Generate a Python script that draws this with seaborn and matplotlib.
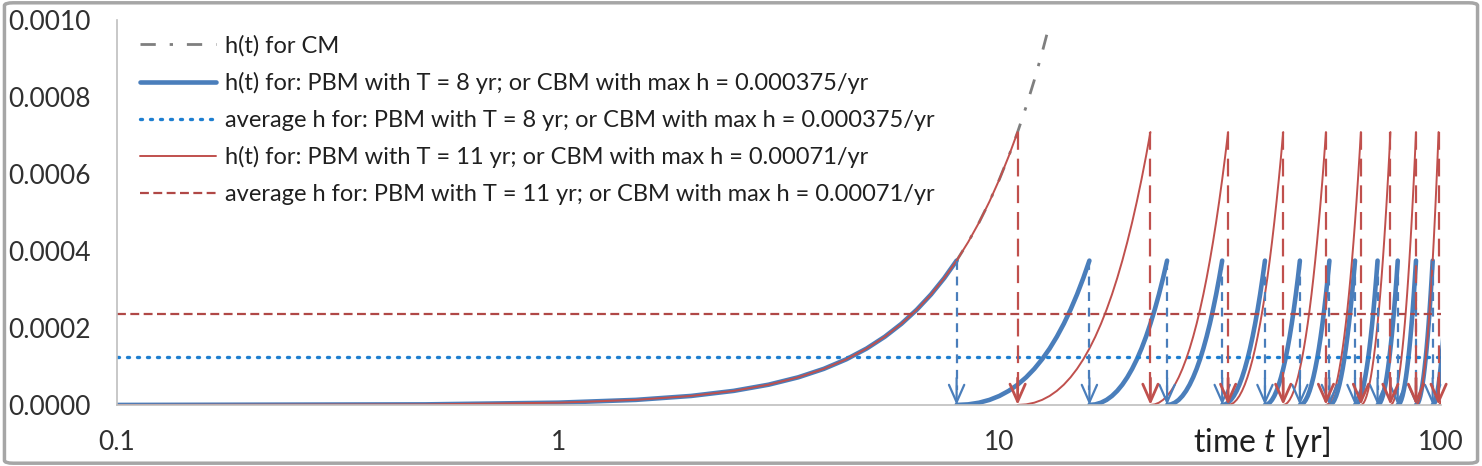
import numpy as np
import pandas as pd
import matplotlib
matplotlib.use("Agg")
import matplotlib.pyplot as plt
import seaborn as sns
from matplotlib.lines import Line2D
from matplotlib.patches import FancyBboxPatch
from matplotlib.ticker import FixedLocator, FixedFormatter, NullLocator

# hazard, by age in years
age_yr = [0, 0.5, 1, 1.5, 2, 2.5, 3, 3.5, 4, 4.5, 5, 5.5, 6, 6.5, 7, 7.5, 8,
          8.5, 9, 9.5, 10, 10.5, 11, 11.5, 12, 12.5, 13]
h_cm = [0.0, 1.5e-6, 5.9e-6, 1.32e-5, 2.34e-5, 3.66e-5, 5.27e-5, 7.18e-5,
        9.38e-5, 1.187e-4, 1.465e-4, 1.773e-4, 2.11e-4, 2.476e-4, 2.871e-4,
        3.296e-4, 3.75e-4, 4.234e-4, 4.747e-4, 5.289e-4, 5.86e-4, 6.461e-4,
        7.09e-4, 7.75e-4, 8.438e-4, 9.156e-4, 9.9e-4]

# renewal times for the two periodic policies
T_blue = 8
T_red = 11
renew_blue = [0, 8, 16, 24, 32, 40, 48, 56, 64, 72, 80, 88, 96]
renew_red = [0, 11, 22, 33, 44, 55, 66, 77, 88, 99]
hmax_blue = 0.000375
hmax_red = 0.00071
avg_blue = 0.000125
avg_red = 0.000237

labels = ["h(t) for CM",
          "h(t) for: PBM with T = 8 yr; or CBM with max h = 0.000375/yr",
          "average h for: PBM with T = 8 yr; or CBM with max h = 0.000375/yr",
          "h(t) for: PBM with T = 11 yr; or CBM with max h = 0.00071/yr",
          "average h for: PBM with T = 11 yr; or CBM with max h = 0.00071/yr"]

c_grey = "#7f7f7f"
c_blue = "#4a7ebb"
c_blue_avg = "#1f7fd0"
c_red = "#c0504d"
c_red_avg = "#b04846"

ls_grey = (0, (5.5, 5, 1.2, 5))
ls_blue_avg = (0, (0.6, 2.4))
ls_red_avg = (0, (4, 2))


def sawtooth(renewals, T):
    rows = []
    for k, t0 in enumerate(renewals):
        for a, h in zip(age_yr, h_cm):
            if a > T:
                break
            t = t0 + a
            if t <= 0:
                t = 0.1
            rows.append((k, t, h))
    return pd.DataFrame(rows, columns=["cycle", "t", "h"])


sns.set_style("white")
plt.rcParams["font.family"] = ["Lato", "DejaVu Sans"]
plt.rcParams["mathtext.fontset"] = "custom"
plt.rcParams["mathtext.rm"] = "Lato"
plt.rcParams["mathtext.it"] = "Lato:italic"

fig = plt.figure(figsize=(14.82, 4.66), dpi=100)
ax = fig.add_axes([0.079, 0.131, 0.893, 0.826])

df_cm = pd.DataFrame({"t": [max(a, 0.1) for a in age_yr], "h": h_cm})
sns.lineplot(data=df_cm, x="t", y="h", ax=ax, color=c_grey, lw=2.0,
             linestyle=ls_grey, sort=False, legend=False)

df_b = sawtooth(renew_blue, T_blue)
sns.lineplot(data=df_b, x="t", y="h", units="cycle", estimator=None, sort=False,
             ax=ax, color=c_blue, lw=3.3, legend=False)

sns.lineplot(x=[0.1, 100], y=[avg_blue, avg_blue], ax=ax, color=c_blue_avg,
             lw=2.4, linestyle=ls_blue_avg, dash_capstyle="round", legend=False)

df_r = sawtooth(renew_red, T_red)
sns.lineplot(data=df_r, x="t", y="h", units="cycle", estimator=None, sort=False,
             ax=ax, color=c_red, lw=1.4, legend=False)

sns.lineplot(x=[0.1, 100], y=[avg_red, avg_red], ax=ax, color=c_red_avg,
             lw=1.6, linestyle=ls_red_avg, legend=False)

# renewal arrows
for t0 in renew_blue[1:]:
    ax.plot([t0, t0], [hmax_blue, 0.00004], color=c_blue, lw=1.6,
            linestyle=(0, (4, 3)))
    ax.annotate("", xy=(t0, 0.0), xytext=(t0, 0.00007),
                arrowprops=dict(arrowstyle="->,head_length=1.25,head_width=0.55",
                                color=c_blue, lw=1.6, shrinkA=0, shrinkB=0))
for t0 in renew_red[1:]:
    ax.plot([t0, t0], [hmax_red, 0.00004], color=c_red, lw=1.6,
            linestyle=(0, (8, 4)))
    ax.annotate("", xy=(t0, 0.0), xytext=(t0, 0.00007),
                arrowprops=dict(arrowstyle="->,head_length=1.25,head_width=0.55",
                                color=c_red, lw=2.0, shrinkA=0, shrinkB=0))

ax.set_xscale("log")
ax.set_xlim(0.1, 100)
ax.set_ylim(0, 0.001)
ax.xaxis.set_major_locator(FixedLocator([0.1, 1, 10, 100]))
ax.xaxis.set_major_formatter(FixedFormatter(["0.1", "1", "10", "100"]))
ax.xaxis.set_minor_locator(NullLocator())
yt = np.arange(0, 0.00101, 0.0002)
ax.set_yticks(yt)
ax.set_yticklabels([f"{v:.4f}" for v in yt])
ax.tick_params(axis="both", labelsize=19, colors="#bfbfbf", labelcolor="#303030",
               direction="out", length=6, width=1.2)
ax.tick_params(axis="x", pad=12)
ax.tick_params(axis="y", pad=13)
ax.set_xlabel("")
ax.set_ylabel("")
for s in ["top", "right"]:
    ax.spines[s].set_visible(False)
for s in ["left", "bottom"]:
    ax.spines[s].set_color("#bfbfbf")
    ax.spines[s].set_linewidth(1.2)

fig.text(1261 / 1482, 1 - 442 / 466, "time $\\mathit{t}$ [yr]", fontsize=23,
         color="#202020", ha="center", va="center")

handles = [
    Line2D([], [], color=c_grey, lw=2.0, linestyle=ls_grey),
    Line2D([], [], color=c_blue, lw=3.3),
    Line2D([], [], color=c_blue_avg, lw=2.4, linestyle=ls_blue_avg,
           dash_capstyle="round"),
    Line2D([], [], color=c_red, lw=1.4),
    Line2D([], [], color=c_red_avg, lw=1.6, linestyle=ls_red_avg),
]
leg = ax.legend(handles, labels, loc="upper left",
                bbox_to_anchor=(140 / 1482, 1 - 35 / 466),
                bbox_transform=fig.transFigure, frameon=False, fontsize=17,
                handlelength=3.2, handletextpad=0.42, labelspacing=0.66,
                borderpad=0, borderaxespad=0)
for txt in leg.get_texts():
    txt.set_color("#202020")

fig.patches.append(FancyBboxPatch((0.003, 0.006), 0.994, 0.988,
                                  boxstyle="round,pad=0,rounding_size=0.006",
                                  transform=fig.transFigure, fill=False,
                                  edgecolor="#a6a6a6", lw=2.5))

fig.savefig("out.png", dpi=100)
